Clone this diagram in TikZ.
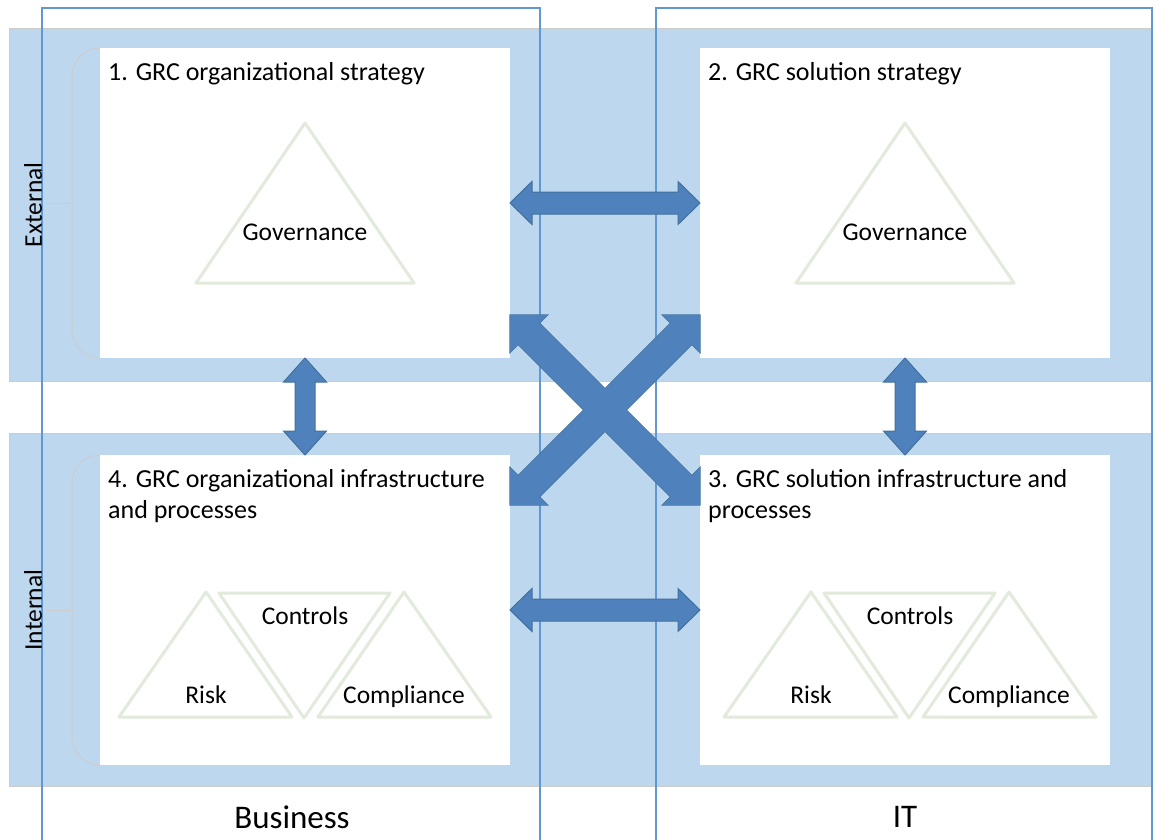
\documentclass[tikz,border=0pt]{standalone}
\usepackage{fontspec}
\setmainfont{Carlito}
\usetikzlibrary{calc}
\definecolor{bandblue}{RGB}{189,215,238}
\definecolor{colline}{RGB}{98,152,210}
\definecolor{arrfill}{RGB}{79,129,189}
\definecolor{arrdraw}{RGB}{65,113,156}
\definecolor{trigray}{RGB}{226,234,220}
\definecolor{bracegray}{RGB}{205,205,205}
\newcommand\blockarrow[6][]{%
 \path[#1] (#2)
  -- ($(#2)!#6!(#3)!#5!90:(#3)$)
  -- ($(#2)!#6!(#3)!#4!90:(#3)$)
  -- ($(#3)!#6!(#2)!#4!-90:(#2)$)
  -- ($(#3)!#6!(#2)!#5!-90:(#2)$)
  -- (#3)
  -- ($(#3)!#6!(#2)!#5!90:(#2)$)
  -- ($(#3)!#6!(#2)!#4!90:(#2)$)
  -- ($(#2)!#6!(#3)!#4!-90:(#3)$)
  -- ($(#2)!#6!(#3)!#5!-90:(#3)$)
  -- cycle;}
\begin{document}
\begin{tikzpicture}[x=1pt,y=-1pt,
  band/.style={fill=bandblue, draw=black!20, line width=0.8pt},
  column/.style={draw=colline, line width=2pt},
  whitebox/.style={fill=white, draw=none, inner sep=0pt, outer sep=0pt,
    minimum width=410pt, minimum height=310pt, anchor=north west},
  head/.style={inner sep=0pt, font=\fontsize{26}{31}\selectfont, align=left},
  lbl/.style={inner sep=0pt, font=\fontsize{25.5}{31}\selectfont},
  collbl/.style={inner sep=0pt, font=\fontsize{33}{40}\selectfont},
  tri/.style={draw=trigray, line width=3pt, line join=round},
  bracestyle/.style={draw=bracegray, line width=1pt},
  blockarr/.style={fill=arrfill, draw=arrdraw, line width=1pt}]
\useasboundingbox (0,0) rectangle (1156,840);
% bands
\path[band] (9,28) rectangle (1152,381);
\path[band] (9,433) rectangle (1152,786);
% columns
\path[column] (42,8) rectangle (540,842);
\path[column] (656,8) rectangle (1152,842);
% boxes
\node[whitebox] (b1) at (100,48) {};
\node[whitebox] (b2) at (700,48) {};
\node[whitebox] (b4) at (100,455) {};
\node[whitebox] (b3) at (700,455) {};
% braces
\draw[bracestyle, rounded corners=28pt] (b1.north west) -| ($(b1.south west)+(-28,0)$) -- (b1.south west);
\draw[bracestyle] ($(b1.west)+(-28,0)$) -- ++(-26,0);
\draw[bracestyle, rounded corners=28pt] (b4.north west) -| ($(b4.south west)+(-28,0)$) -- (b4.south west);
\draw[bracestyle] ($(b4.west)+(-28,0)$) -- ++(-26,0);
\node[lbl, rotate=90] (ext) at (33,205) {External};
\node[lbl, rotate=90] (int) at (33,610) {Internal};
% headings
\node[head, anchor=base west] (t1) at (108,81) {1. GRC organizational strategy};
\node[head, anchor=base west] (t2) at (708,81) {2. GRC solution strategy};
\node[head, anchor=base west] (t4) at (108,518) {4. GRC organizational infrastructure\\and processes};
\node[head, anchor=base west] (t3) at (708,518) {3. GRC solution infrastructure and\\processes};
% governance triangles
\draw[tri] (196,283) -- (305,123) -- (414,283) -- cycle;
\node[lbl, anchor=base] (g1) at (305,240) {Governance};
\draw[tri] (796,283) -- (905,123) -- (1014,283) -- cycle;
\node[lbl, anchor=base] (g2) at (905,240) {Governance};
% risk / controls / compliance triangles
\foreach \dx/\nm in {0/l,605/r}{
  \begin{scope}[xshift=\dx]
  \draw[tri] (119,717) -- (206,592) -- (292,717) -- cycle;
  \draw[tri] (219,593) -- (390,593) -- (304,718) -- cycle;
  \draw[tri] (318,717) -- (404,592) -- (491,717) -- cycle;
  \node[lbl, anchor=base] (risk\nm) at (206,703) {Risk};
  \node[lbl, anchor=base] (ctrl\nm) at (305,624) {Controls};
  \node[lbl, anchor=base] (comp\nm) at (404,703) {Compliance};
  \end{scope}}
% column labels
\node[collbl] (bus) at (292,817) {Business};
\node[collbl] (it) at (905,817) {IT};
% arrow end points
\coordinate (d1a) at ($(b1.south east)+(0,-43)$);
\coordinate (d1b) at ($(b3.north west)+(0,50)$);
\coordinate (d2a) at ($(b2.south west)+(0,-43)$);
\coordinate (d2b) at ($(b4.north east)+(0,50)$);
% arrows
\blockarrow[blockarr]{b1.east}{b2.west}{11pt}{21.5pt}{22pt}
\blockarrow[blockarr]{b4.east}{b3.west}{11pt}{21.5pt}{22pt}
\blockarrow[blockarr]{b1.south}{b4.north}{10pt}{21.5pt}{24pt}
\blockarrow[blockarr]{b2.south}{b3.north}{10pt}{21.5pt}{24pt}
\blockarrow[draw=arrdraw, line width=1.2pt]{d1a}{d1b}{15pt}{26.5pt}{26.5pt}
\blockarrow[draw=arrdraw, line width=1.2pt]{d2a}{d2b}{15pt}{26.5pt}{26.5pt}
\blockarrow[fill=arrfill]{d1a}{d1b}{15pt}{26.5pt}{26.5pt}
\blockarrow[fill=arrfill]{d2a}{d2b}{15pt}{26.5pt}{26.5pt}
\end{tikzpicture}
\end{document}
